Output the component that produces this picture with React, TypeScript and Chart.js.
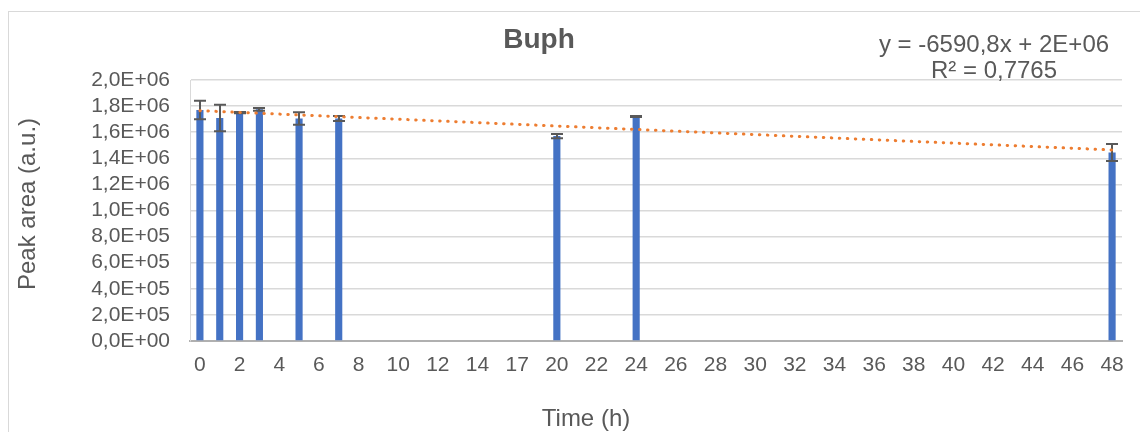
import React, { useEffect, useRef } from 'react';
import { Chart, registerables } from 'chart.js';

Chart.register(...registerables);

// ---- Data ----
const timeLabels = [
  '0', '1', '2', '3', '4', '5', '6', '7', '8', '9', '10', '11', '12', '13', '14',
  '16', '17', '18', '20', '21', '22', '23', '24', '25', '26', '27', '28', '29', '30',
  '31', '32', '33', '34', '35', '36', '37', '38', '39', '40', '41', '42', '43', '44',
  '45', '46', '47', '48',
];
const measuredTimes = ['0', '1', '2', '3', '5', '7', '20', '24', '48'];
const peakArea = [1.770e6, 1.709e6, 1.750e6, 1.775e6, 1.705e6, 1.705e6, 1.570e6, 1.720e6, 1.445e6];
const peakError = [0.0715e6, 0.102e6, 0.005e6, 0.01e6, 0.048e6, 0.019e6, 0.016e6, 0.004e6, 0.065e6];
const trendStart = 1.765e6;
const trendEnd = 1.464e6;
const yMin = 0;
const yMax = 2.0e6;
const yStep = 2.0e5;
const chartTitle = 'Buph';
const trendEquation = 'y = -6590,8x + 2E+06';
const trendR2 = 'R² = 0,7765';
const xTitle = 'Time (h)';
const yTitle = 'Peak area (a.u.)';

const FONT = '"Liberation Sans", Arial, sans-serif';
const TEXT = '#595959';

function sci(v: number): string {
  if (Math.abs(v) < 1e-9) return '0,0E+00';
  const exp = Math.floor(Math.log10(Math.abs(v)) + 1e-9);
  const mant = v / Math.pow(10, exp);
  return (
    mant.toFixed(1).replace('.', ',') +
    'E' +
    (exp >= 0 ? '+' : '-') +
    String(Math.abs(exp)).padStart(2, '0')
  );
}

const barValues = timeLabels.map((t) => {
  const k = measuredTimes.indexOf(t);
  return k >= 0 ? peakArea[k] : null;
});
const barErrors = timeLabels.map((t) => {
  const k = measuredTimes.indexOf(t);
  return k >= 0 ? peakError[k] : null;
});
const trendValues = timeLabels.map((_, i) =>
  i === 0 ? trendStart : i === timeLabels.length - 1 ? trendEnd : null
);

const decorPlugin = {
  id: 'decor',
  beforeDraw(chart: any) {
    const ctx = chart.ctx;
    ctx.save();
    ctx.fillStyle = '#ffffff';
    ctx.fillRect(0, 0, chart.width, chart.height);
    ctx.strokeStyle = '#d9d9d9';
    ctx.lineWidth = 1;
    ctx.strokeRect(8.5, 11.5, chart.width + 40, chart.height + 40);
    ctx.restore();
  },
  afterDatasetDraw(chart: any, args: any) {
    if (args.index !== 1) return;
    const ctx = chart.ctx;
    const yScale = chart.scales.y;
    ctx.save();
    ctx.strokeStyle = '#595959';
    ctx.lineWidth = 2;
    args.meta.data.forEach((bar: any, i: number) => {
      const v = barValues[i];
      const e = barErrors[i];
      if (v == null || e == null) return;
      const x = Math.round(bar.x);
      const yT = yScale.getPixelForValue(v + e);
      const yB = yScale.getPixelForValue(v - e);
      ctx.beginPath();
      ctx.moveTo(x, yT);
      ctx.lineTo(x, yB);
      ctx.moveTo(x - 6, yT);
      ctx.lineTo(x + 6, yT);
      ctx.moveTo(x - 6, yB);
      ctx.lineTo(x + 6, yB);
      ctx.stroke();
    });
    ctx.restore();
  },
  afterDraw(chart: any) {
    const ctx = chart.ctx;
    ctx.save();
    ctx.fillStyle = TEXT;
    ctx.textAlign = 'center';
    ctx.textBaseline = 'alphabetic';
    ctx.font = `bold 28px ${FONT}`;
    ctx.fillText(chartTitle, 539, 48);
    ctx.font = `24px ${FONT}`;
    ctx.fillText(trendEquation, 994, 52);
    ctx.fillText(trendR2, 994, 78);
    ctx.textBaseline = 'middle';
    ctx.fillText(xTitle, 586, 419);
    ctx.translate(28, 204);
    ctx.rotate(-Math.PI / 2);
    ctx.fillText(yTitle, 0, 0);
    ctx.restore();
  },
};

export default function App() {
  const ref = useRef<HTMLCanvasElement | null>(null);
  useEffect(() => {
    if (!ref.current) return;
    const chart = new Chart(ref.current, {
      type: 'bar',
      data: {
        labels: timeLabels,
        datasets: [
          {
            type: 'line',
            data: trendValues,
            borderColor: '#ed7d31',
            borderWidth: 3,
            borderDash: [0.5, 7.5],
            borderCapStyle: 'round',
            pointRadius: 0,
            spanGaps: true,
            order: 0,
          } as any,
          {
            type: 'bar',
            data: barValues,
            backgroundColor: '#4472c4',
            categoryPercentage: 1,
            barPercentage: 0.36,
            order: 1,
          } as any,
        ],
      },
      options: {
        responsive: false,
        animation: false,
        devicePixelRatio: 1,
        events: [],
        layout: { padding: { left: 0, top: 80, right: 18, bottom: 0 } },
        plugins: {
          legend: { display: false },
          tooltip: { enabled: false },
          title: { display: false },
        },
        scales: {
          x: {
            type: 'category',
            offset: true,
            grid: { display: false, drawTicks: false },
            border: { display: true, color: '#b0b0b0', width: 2 },
            ticks: {
              autoSkip: false,
              maxRotation: 0,
              minRotation: 0,
              padding: 12,
              color: TEXT,
              font: { family: FONT, size: 21 },
              callback: (_v: any, i: number) => (i % 2 === 0 ? timeLabels[i] : ''),
            },
            afterFit: (s: any) => {
              s.height = 91;
            },
          },
          y: {
            min: yMin,
            max: yMax,
            grid: { color: '#d9d9d9', lineWidth: 1.5, drawTicks: false },
            border: { display: true, color: '#d9d9d9', width: 1 },
            ticks: {
              stepSize: yStep,
              autoSkip: false,
              padding: 20,
              color: TEXT,
              font: { family: FONT, size: 21 },
              callback: (v: any) => sci(Number(v)),
            },
            afterFit: (s: any) => {
              s.width = 190;
            },
          },
        },
      } as any,
      plugins: [decorPlugin],
    });
    return () => chart.destroy();
  }, []);
  return (
    <div style={{ position: 'absolute', left: 0, top: 0, width: 1140, height: 432 }}>
      <canvas ref={ref} width={1140} height={432} style={{ display: 'block' }} />
    </div>
  );
}
